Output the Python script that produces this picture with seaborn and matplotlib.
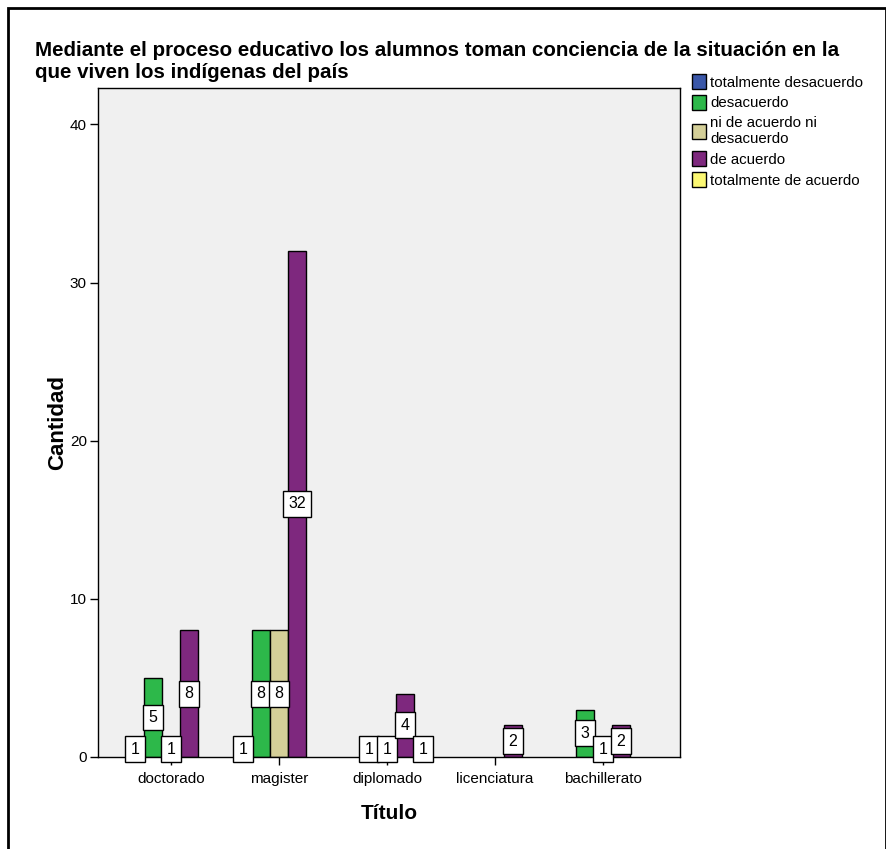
import numpy as np
import pandas as pd
import seaborn as sns
import matplotlib.pyplot as plt
from matplotlib.patches import Patch, Rectangle

# Data
titulos = ['doctorado', 'magister', 'diplomado', 'licenciatura', 'bachillerato']
respuestas = ['totalmente desacuerdo', 'desacuerdo', 'ni de acuerdo ni desacuerdo',
              'de acuerdo', 'totalmente de acuerdo']
tot_desacuerdo = [1, 1, 0, 0, 0]
desacuerdo = [5, 8, 1, 0, 3]
ni_ni = [1, 8, 1, 0, 1]
de_acuerdo = [8, 32, 4, 2, 2]
tot_acuerdo = [0, 0, 1, 0, 0]

colores = ['#3a57a8', '#2db84a', '#d4cf98', '#7e287e', '#fcf873']

rows = []
for resp, vals in zip(respuestas, [tot_desacuerdo, desacuerdo, ni_ni, de_acuerdo, tot_acuerdo]):
    for t, v in zip(titulos, vals):
        if v > 0:
            rows.append({'Título': t, 'respuesta': resp, 'Cantidad': v})
df = pd.DataFrame(rows)

sns.set_style("white")
plt.rcParams['font.family'] = ['Liberation Sans', 'DejaVu Sans']
plt.rcParams['text.color'] = 'black'
plt.rcParams['axes.labelcolor'] = 'black'
plt.rcParams['xtick.color'] = 'black'
plt.rcParams['ytick.color'] = 'black'

fig = plt.figure(figsize=(8.87, 8.49), dpi=100)
ax = fig.add_axes([98 / 887, 1 - 757 / 849, (680 - 98) / 887, (757 - 88) / 849])
ax.set_facecolor('#f0f0f0')

sns.barplot(data=df, x='Título', y='Cantidad', hue='respuesta', order=titulos,
            hue_order=respuestas, palette=colores, width=0.8333, dodge=True,
            edgecolor='black', linewidth=1, saturation=1, legend=False, ax=ax)

for cont in ax.containers:
    ax.bar_label(cont, label_type='center', fontsize=11.5, color='black',
                 bbox=dict(boxstyle='square,pad=0.34', facecolor='white',
                           edgecolor='black', linewidth=1))

ax.set_xlim(-0.676, 4.713)
ax.set_ylim(0, 42.3)
ax.set_yticks([0, 10, 20, 30, 40])
ax.tick_params(axis='both', direction='out', length=6, width=1, color='black',
               labelsize=11, pad=2, bottom=True, left=True)
ax.tick_params(axis='x', pad=5)
for s in ax.spines.values():
    s.set_color('black')
    s.set_linewidth(1)
ax.set_xlabel('Título', fontsize=15, fontweight='bold', labelpad=13)
ax.set_ylabel('Cantidad', fontsize=16, fontweight='bold', labelpad=1)

# title in two lines, as in the reference
fig.text(35 / 887, 1 - 50 / 849,
         'Mediante el proceso educativo los alumnos toman conciencia de la situación en la',
         fontsize=14.8, fontweight='bold', ha='left', va='center')
fig.text(35 / 887, 1 - 73 / 849, 'que viven los indígenas del país',
         fontsize=14.8, fontweight='bold', ha='left', va='center')

handles = [Patch(facecolor=c, edgecolor='black', linewidth=1) for c in colores]
labels = ['totalmente desacuerdo', 'desacuerdo', 'ni de acuerdo ni\ndesacuerdo',
          'de acuerdo', 'totalmente de acuerdo']
fig.legend(handles, labels, loc='upper left', bbox_to_anchor=(686 / 887, 1 - 68 / 849),
           frameon=False, fontsize=10.8, handlelength=0.9, handleheight=1.15,
           handletextpad=0.3, labelspacing=0.36, borderaxespad=0)

# outer frame
fig.patches.append(Rectangle((8 / 887, -0.01), 1 - 8 / 887 - 1 / 887, 1 - 8 / 849 + 0.01,
                             transform=fig.transFigure, fill=False,
                             edgecolor='black', linewidth=2))

fig.savefig('out.png', dpi=100)
